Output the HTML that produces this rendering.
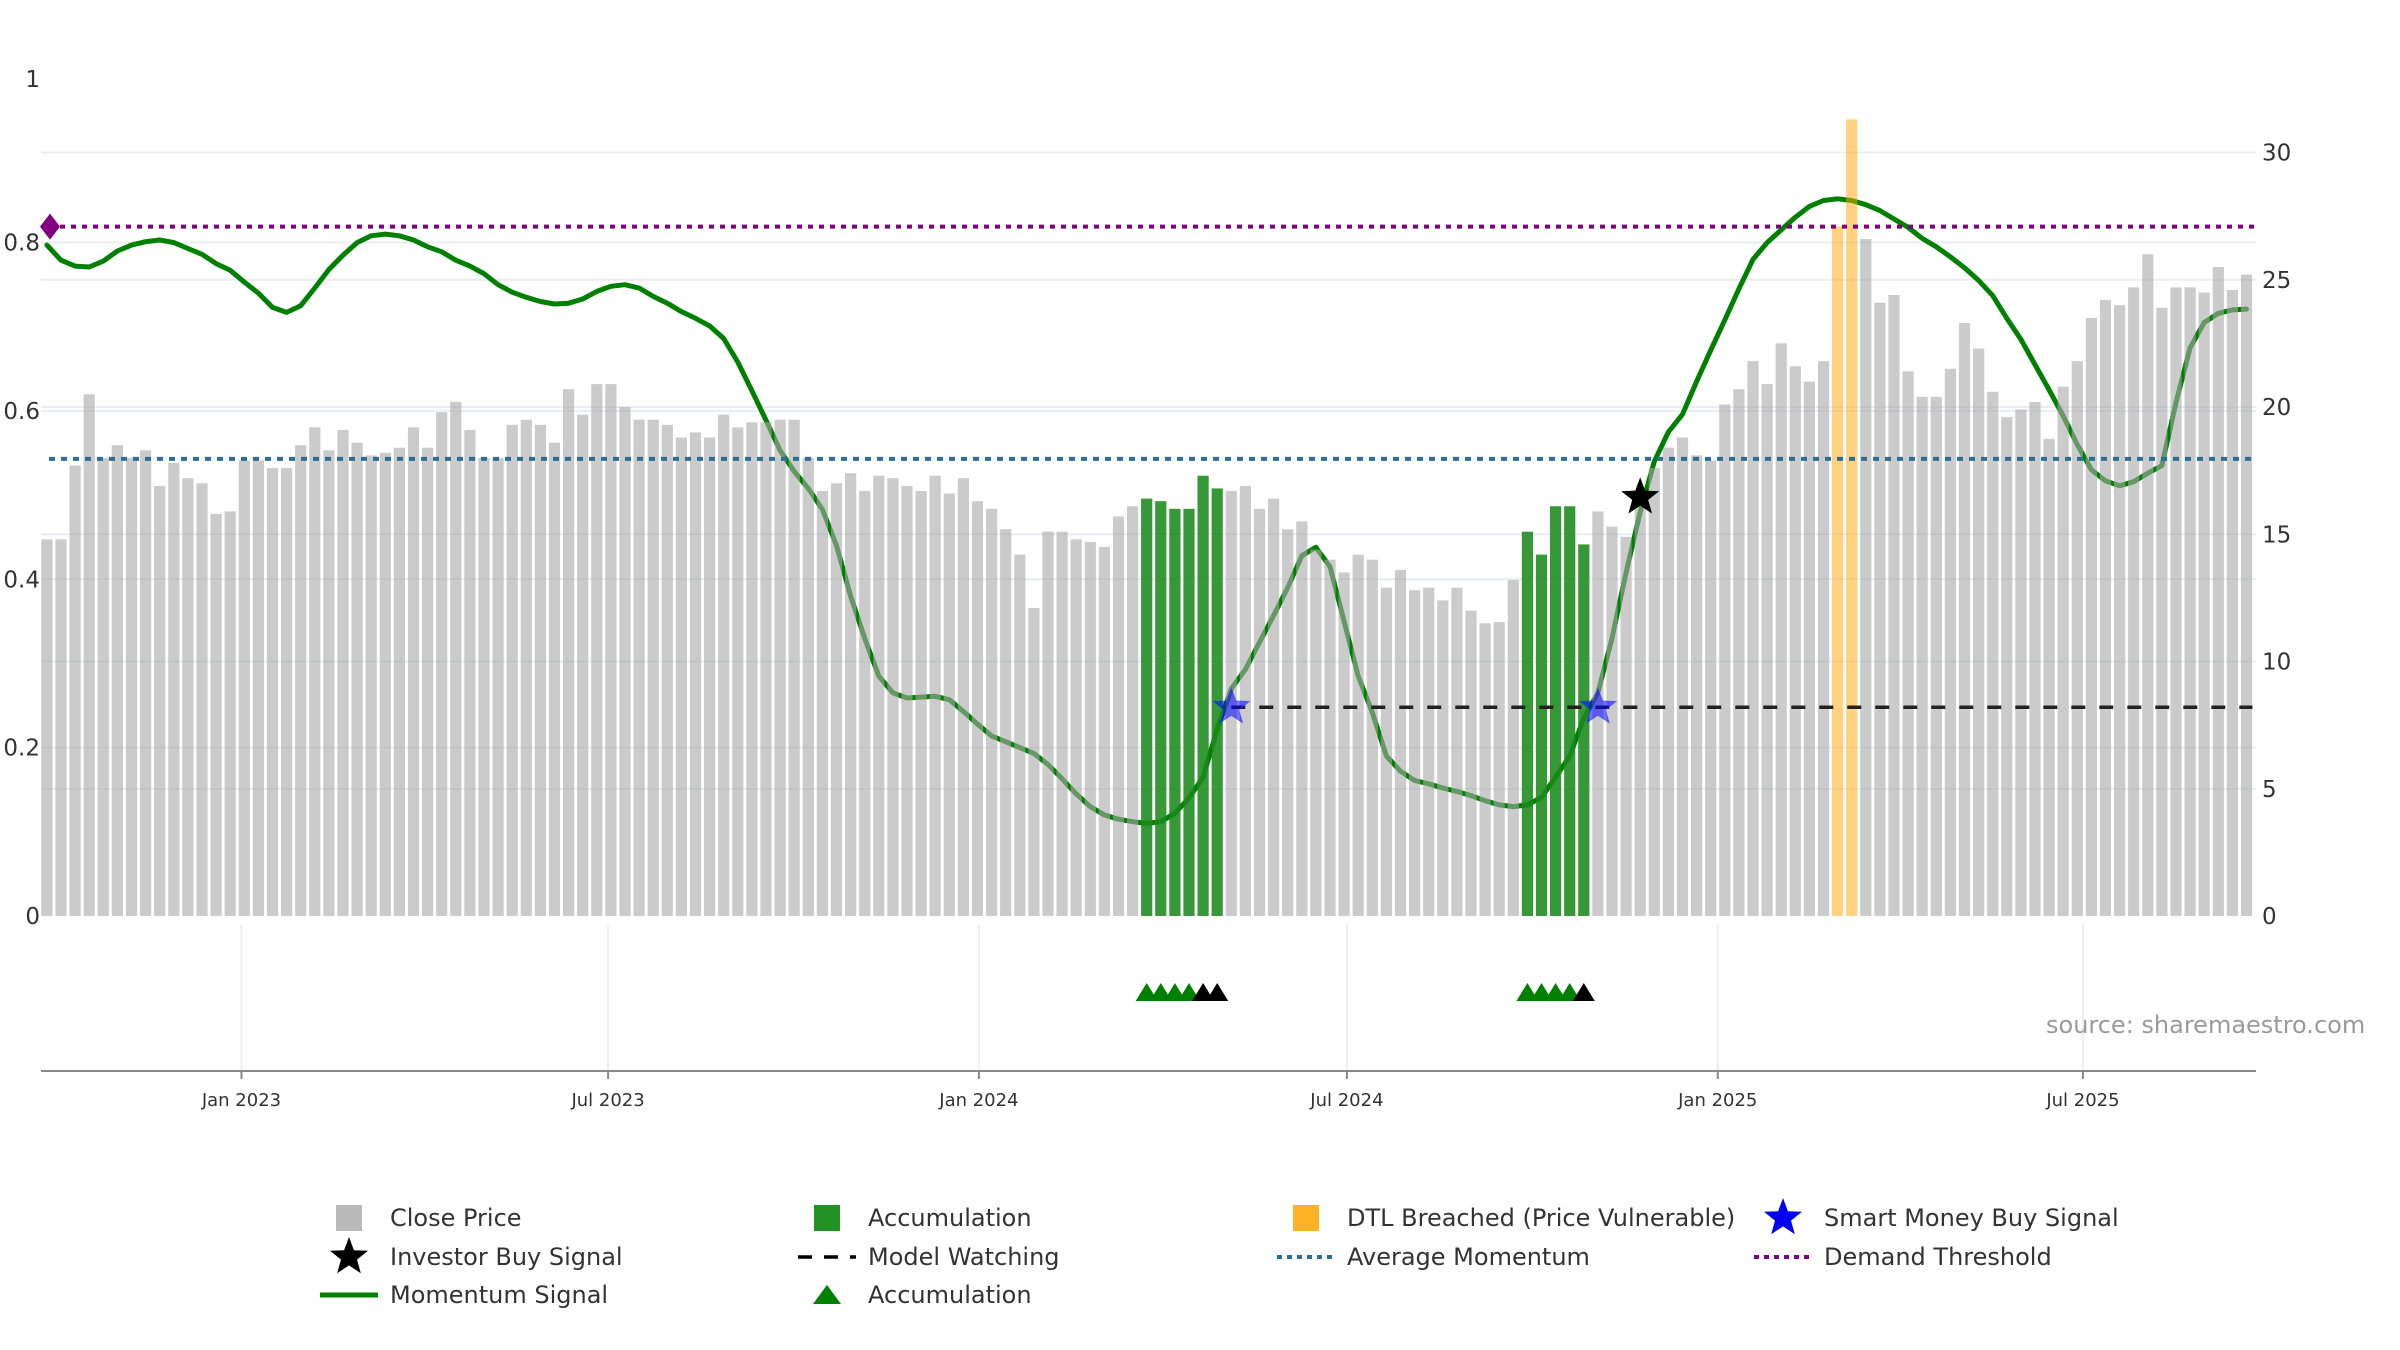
<!DOCTYPE html>
<html><head><meta charset="utf-8"><style>
html,body{margin:0;padding:0;background:#fff;}
svg{display:block;font-family:"DejaVu Sans","Liberation Sans",sans-serif;}
</style></head><body>
<svg id="chart" width="2400" height="1350" viewBox="0 0 2400 1350" xmlns="http://www.w3.org/2000/svg">
<g id="grid"></g>
<g id="lines"></g>
<g id="bars"></g>
<g id="overlay"></g>
<g id="axes"></g>
<text x="2046" y="1033" font-size="24" fill="#9a9a9a">source: sharemaestro.com</text>
<g id="legend"></g>
</svg>
<script>
const closePrices = [14.8,14.8,17.7,20.5,18.0,18.5,18.0,18.3,16.9,17.8,17.2,17.0,15.8,15.9,17.9,17.9,17.6,17.6,18.5,19.2,18.3,19.1,18.6,18.1,18.2,18.4,19.2,18.4,19.8,20.2,19.1,18.0,18.0,19.3,19.5,19.3,18.6,20.7,19.7,20.9,20.9,20.0,19.5,19.5,19.3,18.8,19.0,18.8,19.7,19.2,19.4,19.4,19.5,19.5,18.0,16.7,17.0,17.4,16.7,17.3,17.2,16.9,16.7,17.3,16.6,17.2,16.3,16.0,15.2,14.2,12.1,15.1,15.1,14.8,14.7,14.5,15.7,16.1,16.4,16.3,16.0,16.0,17.3,16.8,16.7,16.9,16.0,16.4,15.2,15.5,14.4,14.0,13.5,14.2,14.0,12.9,13.6,12.8,12.9,12.4,12.9,12.0,11.5,11.55,13.2,15.1,14.2,16.1,16.1,14.6,15.9,15.3,14.9,16.5,17.6,18.4,18.8,18.1,17.9,20.1,20.7,21.8,20.9,22.5,21.6,21.0,21.8,27.1,31.3,26.6,24.1,24.4,21.4,20.4,20.4,21.5,23.3,22.3,20.6,19.6,19.9,20.2,18.75,20.8,21.8,23.5,24.2,24.0,24.7,26.0,23.9,24.7,24.7,24.5,25.5,24.6,25.2];
const momentum = [.797,.779,.772,.771,.778,.790,.797,.801,.803,.800,.793,.786,.775,.767,.753,.740,.723,.717,.725,.746,.768,.785,.800,.808,.810,.808,.803,.795,.789,.779,.772,.763,.750,.741,.735,.730,.727,.728,.733,.742,.748,.750,.746,.736,.728,.718,.710,.701,.686,.658,.624,.589,.553,.528,.508,.483,.440,.380,.330,.285,.265,.259,.260,.261,.257,.243,.228,.214,.207,.200,.193,.180,.163,.145,.130,.120,.115,.112,.110,.112,.122,.140,.165,.222,.270,.293,.325,.357,.390,.428,.438,.415,.350,.285,.242,.190,.172,.161,.157,.152,.148,.143,.137,.132,.130,.132,.141,.165,.190,.235,.265,.330,.408,.480,.540,.575,.596,.635,.672,.708,.745,.780,.800,.815,.830,.843,.850,.852,.850,.845,.838,.828,.818,.805,.795,.783,.770,.755,.737,.710,.685,.655,.625,.594,.560,.530,.517,.511,.516,.526,.535,.610,.675,.705,.716,.720,.721];
const accumulationIdx = [78,79,80,81,82,83,105,106,107,108,109];
const dtlIdx = [127,128];
const smartMoneyIdx = [84,110];
const modelWatchStart = [84];
const modelWatchLevel = [8.2];
const investorIdx = [113];
const investorValue = [16.45];
const triGreenIdx = [78,79,80,81,105,106,107,108];
const triBlackIdx = [82,83,109];
const demandThreshold = [0.819];
const avgMomentum = [0.543];
const rightTicks = [0,5,10,15,20,25,30];
const leftTicks = [0,0.2,0.4,0.6,0.8,1];
const leftTickLabels = ["0","0.2","0.4","0.6","0.8","1"];
const dateTickWeeks = [13.8,39.8,66.1,92.2,118.5,144.4];
const dateTickLabels = ["Jan 2023","Jul 2023","Jan 2024","Jul 2024","Jan 2025","Jul 2025"];

const NS="http://www.w3.org/2000/svg";
const PL=41, PR=2256;
function xOf(i){return 46.9+i*14.1;}
function yR(v){return 916-v*25.45;}
function yL(v){return 916-v*841.8;}
function mk(tag,attrs,parent){const e=document.createElementNS(NS,tag);for(const k in attrs)e.setAttribute(k,attrs[k]);parent.appendChild(e);return e;}
function starPts(cx,cy,r){let p=[];for(let k=0;k<10;k++){const a=-Math.PI/2+k*Math.PI/5;const rr=k%2?r*0.42:r;p.push((cx+rr*Math.cos(a)).toFixed(1)+","+(cy+rr*Math.sin(a)).toFixed(1));}return p.join(" ");}
const G=document.getElementById('grid'),Ln=document.getElementById('lines'),B=document.getElementById('bars'),O=document.getElementById('overlay'),A=document.getElementById('axes'),LG=document.getElementById('legend');

rightTicks.forEach(t=>{if(t===0)return;const e=mk('line',{x1:PL,x2:PR,y1:yR(t),y2:yR(t),stroke:'#e9ecf2','stroke-width':2},G);

});
leftTicks.forEach(t=>{if(t===0||t===1)return;const e=mk('line',{x1:PL,x2:PR,y1:yL(t),y2:yL(t),stroke:'#e9ecf2','stroke-width':2},G);

});
dateTickWeeks.forEach(w=>{const e=mk('line',{x1:xOf(w),x2:xOf(w),y1:925,y2:1071,stroke:'#eceef2','stroke-width':2},G);

});

const mp=momentum.map((v,i)=>xOf(i).toFixed(1)+","+yL(v).toFixed(1)).join(" ");
const ml=mk('polyline',{points:mp,fill:'none',stroke:'#008000','stroke-width':5,'stroke-linejoin':'round','stroke-linecap':'round'},Ln);



closePrices.forEach((v,i)=>{
 let fill='#a8a8a8',op=0.6,name='close-price-bar';
 if(accumulationIdx.includes(i)){fill='#1a8a1a';op=0.88;name='accumulation-bar';}
 if(dtlIdx.includes(i)){fill='#ffa500';op=0.5;name='dtl-breached-bar';}
 const r=mk('rect',{x:xOf(i)-5.6,y:yR(v),width:11.2,height:916-yR(v),fill:fill,'fill-opacity':op},B);
 
 
});

const dt=mk('line',{x1:PL+8,x2:PR,y1:yL(demandThreshold[0]),y2:yL(demandThreshold[0]),stroke:'#800080','stroke-width':4,'stroke-dasharray':'5 6'},O);


const dd=mk('polygon',{points:`${PL+9},${yL(demandThreshold[0])-13} ${PL+19},${yL(demandThreshold[0])} ${PL+9},${yL(demandThreshold[0])+13} ${PL-1},${yL(demandThreshold[0])}`,fill:'#800080'},O);


const am=mk('line',{x1:PL+8,x2:PR,y1:yL(avgMomentum[0]),y2:yL(avgMomentum[0]),stroke:'#2a6f97','stroke-width':4,'stroke-dasharray':'6 6'},O);


const mw=mk('line',{x1:xOf(modelWatchStart[0]),x2:xOf(closePrices.length-1)+6,y1:yR(modelWatchLevel[0]),y2:yR(modelWatchLevel[0]),stroke:'#222','stroke-width':3.5,'stroke-dasharray':'14 14'},O);



smartMoneyIdx.forEach(i=>{const s=mk('polygon',{points:starPts(xOf(i),yR(modelWatchLevel[0]),19),fill:'#0000ff','fill-opacity':0.55,stroke:'#3030ff','stroke-opacity':0.5},O);

});
investorIdx.forEach((i,k)=>{const s=mk('polygon',{points:starPts(xOf(i),yR(investorValue[k]),20),fill:'#000'},O);

});

function tri(i,col,name){const x=xOf(i),y=992;const t=mk('polygon',{points:`${x-11},${y+9} ${x},${y-9} ${x+11},${y+9}`,fill:col},O);

}
triGreenIdx.forEach(i=>tri(i,'#008000','accumulation-triangle'));
triBlackIdx.forEach(i=>tri(i,'#000','black-signal-triangle'));

const ax=mk('line',{x1:PL,x2:PR,y1:1071,y2:1071,stroke:'#888','stroke-width':2},A);


dateTickWeeks.forEach((w,k)=>{
 const tk=mk('line',{x1:xOf(w),x2:xOf(w),y1:1071,y2:1079,stroke:'#888','stroke-width':2},A);
 
 
 const t=mk('text',{x:xOf(w),y:1106,'font-size':18,fill:'#333','text-anchor':'middle'},A);t.textContent=dateTickLabels[k];
 
 
});
leftTicks.forEach((v,k)=>{const t=mk('text',{x:40,y:yL(v)+(k===5?13:8),'font-size':23,fill:'#333','text-anchor':'end'},A);t.textContent=leftTickLabels[k];
 
 });
rightTicks.forEach(v=>{const t=mk('text',{x:2262,y:yR(v)+8,'font-size':23,fill:'#333','text-anchor':'start'},A);t.textContent=String(v);
 
 });

const rows=[1218,1257,1295];
function legText(x,y,s){const t=mk('text',{x:x,y:y+8,'font-size':24,fill:'#333'},LG);t.textContent=s;
 
 }
function sq(cx,cy,col,op,name){const r=mk('rect',{x:cx-13,y:cy-13,width:26,height:26,fill:col,'fill-opacity':op},LG);
 
 }
sq(349,rows[0],'#a8a8a8',0.8,'legend-close-price-swatch');legText(390,rows[0],'Close Price');
sq(827,rows[0],'#0f8a0f',0.92,'legend-accumulation-swatch');legText(868,rows[0],'Accumulation');
sq(1306,rows[0],'#ffa500',0.85,'legend-dtl-swatch');legText(1347,rows[0],'DTL Breached (Price Vulnerable)');
let ls=mk('polygon',{points:starPts(1783,rows[0],20),fill:'#0000ee'},LG);


legText(1824,rows[0],'Smart Money Buy Signal');
ls=mk('polygon',{points:starPts(349,rows[1],20),fill:'#000'},LG);


legText(390,rows[1],'Investor Buy Signal');
let ll=mk('line',{x1:798,x2:856,y1:rows[1],y2:rows[1],stroke:'#000','stroke-width':3.5,'stroke-dasharray':'14 12'},LG);


legText(868,rows[1],'Model Watching');
ll=mk('line',{x1:1277,x2:1337,y1:rows[1],y2:rows[1],stroke:'#2a6f97','stroke-width':4,'stroke-dasharray':'5 5'},LG);


legText(1347,rows[1],'Average Momentum');
ll=mk('line',{x1:1754,x2:1814,y1:rows[1],y2:rows[1],stroke:'#800080','stroke-width':4,'stroke-dasharray':'5 5'},LG);


legText(1824,rows[1],'Demand Threshold');
ll=mk('line',{x1:320,x2:378,y1:rows[2],y2:rows[2],stroke:'#008000','stroke-width':5},LG);


legText(390,rows[2],'Momentum Signal');
ll=mk('polygon',{points:`813,${rows[2]+9} 827,${rows[2]-10} 841,${rows[2]+9}`,fill:'#008000'},LG);


legText(868,rows[2],'Accumulation');
</script>
</body></html>
